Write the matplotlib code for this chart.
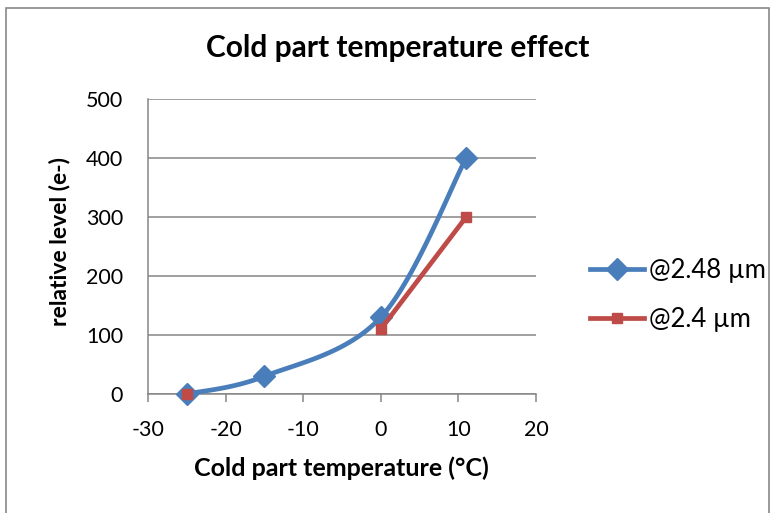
import numpy as np
import matplotlib.pyplot as plt
from matplotlib.patches import Rectangle

# series data
temp_blue = [-25, -15, 0, 11]
level_blue = [0, 30, 130, 400]
temp_red = [-25, -15, 0, 11]
level_red = [0, np.nan, 110, 300]   # no value at -15, so the line breaks

x_ticks = [-30, -20, -10, 0, 10, 20]
y_ticks = [0, 100, 200, 300, 400, 500]

BLUE = '#4a7ebb'
RED = '#be4b48'
GRID = '#868686'


def smooth_curve(xs, ys, n=40):
    """Catmull-Rom style Bezier through the points (like a smoothed line)."""
    p = np.column_stack([xs, ys]).astype(float)
    ext = np.vstack([p[0], p, p[-1]])
    out = []
    t = np.linspace(0, 1, n)[:, None]
    for i in range(1, len(ext) - 2):
        p0, p1, p2, p3 = ext[i - 1], ext[i], ext[i + 1], ext[i + 2]
        c1 = p1 + (p2 - p0) / 6
        c2 = p2 - (p3 - p1) / 6
        seg = ((1 - t) ** 3) * p1 + 3 * ((1 - t) ** 2) * t * c1 + 3 * (1 - t) * t ** 2 * c2 + t ** 3 * p2
        out.append(seg)
    seg = np.vstack(out)
    return seg[:, 0], seg[:, 1]


plt.rcParams['font.family'] = ['Lato', 'DejaVu Sans']
plt.rcParams['axes.unicode_minus'] = False

W, H = 775, 513
fig = plt.figure(figsize=(W / 100, H / 100), dpi=100)
fig.patches.append(Rectangle((6 / W, -0.01), 763 / W, 1 - 8 / H + 0.01,
                             transform=fig.transFigure, fill=False,
                             edgecolor='#888888', linewidth=1.2))

ax = fig.add_axes([148 / W, 1 - 394 / H, 388 / W, 295 / H])

sx, sy = smooth_curve(temp_blue, level_blue)
ax.plot(sx, sy, color=BLUE, linewidth=3.4, solid_capstyle='round', zorder=3,
        clip_on=False)
ax.plot(temp_blue, level_blue, linestyle='none', marker='D', markersize=11,
        color=BLUE, zorder=4, clip_on=False)
ax.plot(temp_red, level_red, color=RED, linewidth=3.4, marker='s', markersize=7.5,
        zorder=5, clip_on=False)

ax.set_xlim(-30, 20)
ax.set_ylim(0, 500)
ax.set_xticks(x_ticks)
ax.set_yticks(y_ticks)
ax.grid(axis='y', color=GRID, linewidth=1.1)
ax.set_axisbelow(True)
for side in ['top', 'right']:
    ax.spines[side].set_visible(False)
for side in ['left', 'bottom']:
    ax.spines[side].set_color(GRID)
    ax.spines[side].set_linewidth(1.1)
ax.tick_params(axis='x', direction='out', length=6, color=GRID, width=1.1,
               labelsize=15.5, pad=13)
ax.tick_params(axis='y', length=0, labelsize=15.5, pad=18)

fig.text(398 / W, 1 - 48 / H, 'Cold part temperature effect', fontsize=21.5,
         fontweight='bold', ha='center', va='center')
fig.text(341 / W, 1 - 468 / H, 'Cold part temperature (°C)', fontsize=18,
         fontweight='bold', ha='center', va='center')
fig.text(59 / W, 1 - 242 / H, 'relative level (e-)', fontsize=16.5,
         fontweight='bold', ha='center', va='center', rotation=90)

h_blue, = ax.plot([], [], color=BLUE, linewidth=3.4, marker='D', markersize=11)
h_red, = ax.plot([], [], color=RED, linewidth=3.4, marker='s', markersize=7.5)
fig.legend([h_blue, h_red], ['@2.48 µm', '@2.4 µm'], loc='center left',
           bbox_to_anchor=(590 / W, 1 - 295 / H), frameon=False,
           fontsize=18.5, handlelength=2.1, labelspacing=0.9, handletextpad=0.2,
           borderpad=0, borderaxespad=0)

fig.savefig('out.png', dpi=100)
